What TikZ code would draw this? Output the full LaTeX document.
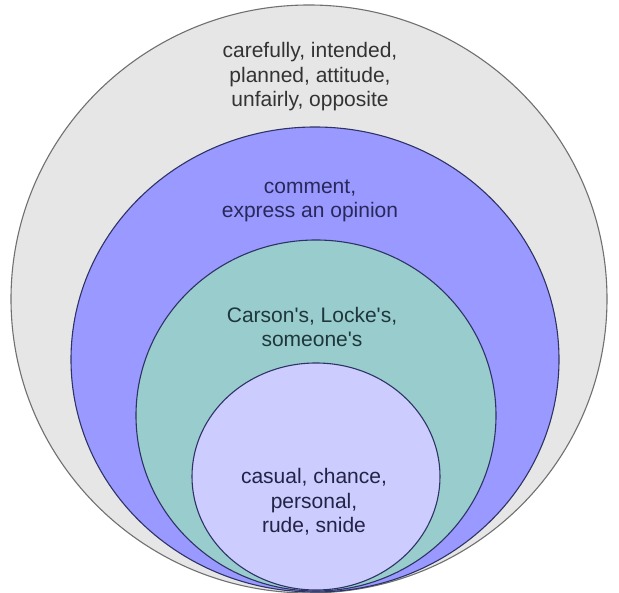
\documentclass[tikz,border=0pt]{standalone}
\usepackage{fontspec}
\setmainfont{Liberation Sans}
\definecolor{outerfill}{HTML}{E6E6E6}
\definecolor{outerline}{HTML}{707070}
\definecolor{bluefill}{HTML}{9999FF}
\definecolor{tealfill}{HTML}{99CCCC}
\definecolor{innerfill}{HTML}{CCCCFF}
\definecolor{navyline}{HTML}{2E3366}
\tikzset{
  ring/.style={draw=navyline, line width=1.1pt},
  lbl/.style={align=center, font=\fontsize{21}{24.5}\selectfont, inner sep=0pt}
}
\begin{document}
\begin{tikzpicture}[x=1pt,y=-1pt]
\useasboundingbox[fill=white] (0,0) rectangle (619,593);
\draw[fill=outerfill, draw=outerline, line width=1.1pt] (309,299) ellipse [x radius=298, y radius=294];
\draw[ring, fill=bluefill] (315,359.5) ellipse [x radius=244, y radius=232.5];
\draw[ring, fill=tealfill] (316,415.5) ellipse [x radius=180, y radius=175.5];
\draw[ring, fill=innerfill] (316,476.5) ellipse [x radius=124, y radius=113.5];
\node[lbl, text=black!80] (outertxt) at (310,77) {carefully, intended,\\planned, attitude,\\unfairly, opposite};
\node[lbl, text={rgb,255:red,40;green,40;blue,90}] (bluetxt) at (310,201) {comment,\\express an opinion};
\node[lbl, text={rgb,255:red,30;green,55;blue,60}] (tealtxt) at (312,327) {Carson\textquotesingle s, Locke\textquotesingle s,\\someone\textquotesingle s};
\node[lbl, text={rgb,255:red,35;green,35;blue,70}] (innertxt) at (314,502) {casual, chance,\\personal,\\rude, snide};
\end{tikzpicture}
\end{document}
